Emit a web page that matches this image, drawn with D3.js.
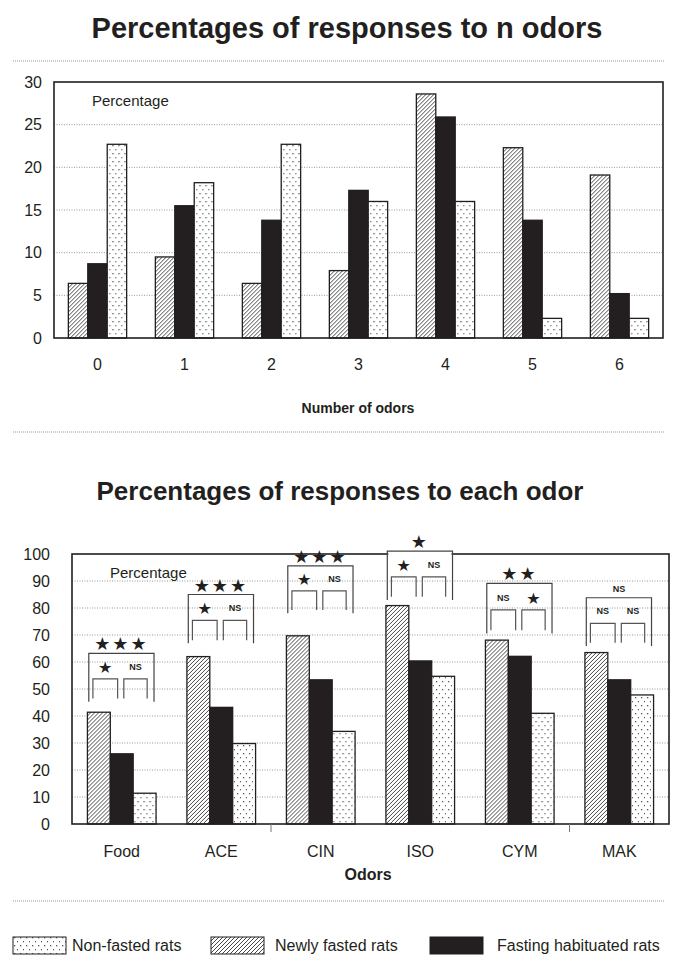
<!DOCTYPE html>
<html lang="en">
	<head>
		<meta charset="utf-8">
		<title>Percentages of responses</title>
		<script type="text/javascript" src="https://cdn.jsdelivr.net/npm/d3@7"></script>
		<style type="text/css">
			body { margin: 0; background: #fff; }
			text { font-family: "Liberation Sans", Arial, sans-serif; fill: #231f20; }
			.star { font-family: "DejaVu Sans", sans-serif; }
		</style>
	</head>

	<body>
		<script type="text/javascript">
			/* top chart: number of odors responded to */
			var nCats = ["0", "1", "2", "3", "4", "5", "6"];
			var nNewly = [6.4, 9.5, 6.4, 7.9, 28.6, 22.3, 19.1];
			var nHabit = [8.7, 15.5, 13.8, 17.3, 25.9, 13.8, 5.2];
			var nNon = [22.7, 18.2, 22.7, 16.0, 16.0, 2.3, 2.3];
			var nTicks = [0, 5, 10, 15, 20, 25, 30];

			/* bottom chart: each odor */
			var odorCats = ["Food", "ACE", "CIN", "ISO", "CYM", "MAK"];
			var oNewly = [41.4, 62.0, 69.7, 80.9, 68.1, 63.5];
			var oHabit = [26.0, 43.2, 53.4, 60.4, 62.1, 53.4];
			var oNon = [11.4, 29.8, 34.3, 54.7, 41.0, 47.8];
			var oTicks = [0, 10, 20, 30, 40, 50, 60, 70, 80, 90, 100];

			/* significance marks over each odor */
			var sigAll = ["★★★", "★★★", "★★★", "★", "★★", "NS"];
			var sigNewlyHabit = ["★", "★", "★", "★", "NS", "NS"];
			var sigHabitNon = ["NS", "NS", "NS", "NS", "★", "NS"];
			var bracketTop = [63.2, 85, 95.6, 101.1, 89.1, 83.8];
			var bracketBottom = [45.3, 66.9, 78.1, 83, 70.6, 65.9];

			var seriesKeys = ["newly", "habit", "non"];
			var legendLabels = ["Non-fasted rats", "Newly fasted rats", "Fasting habituated rats"];

			var W = 674, H = 958;
			var ink = "#231f20";

			var svg = d3.select("body")
				.append("svg")
				.attr("width", W)
				.attr("height", H);

			/* fill patterns */
			var defs = svg.append("defs");
			var hatch = defs.append("pattern")
				.attr("id", "hatch")
				.attr("patternUnits", "userSpaceOnUse")
				.attr("width", 4).attr("height", 4);
			hatch.append("rect").attr("width", 4).attr("height", 4).attr("fill", "#fff");
			hatch.append("path")
				.attr("d", "M-1,1 l2,-2 M0,4 l4,-4 M3,5 l2,-2")
				.attr("stroke", "#333").attr("stroke-width", 0.9);

			var dots = defs.append("pattern")
				.attr("id", "dots")
				.attr("patternUnits", "userSpaceOnUse")
				.attr("width", 6).attr("height", 8);
			dots.append("rect").attr("width", 6).attr("height", 8).attr("fill", "#fff");
			dots.append("rect").attr("x", 2).attr("y", 1).attr("width", 1.3).attr("height", 1.3).attr("fill", "#555");
			dots.append("rect").attr("x", 5).attr("y", 5).attr("width", 1.3).attr("height", 1.3).attr("fill", "#555");

			var fills = { newly: "url(#hatch)", habit: ink, non: "url(#dots)" };

			/* dotted separators */
			[61, 432, 901].forEach(function(y) {
				svg.append("line")
					.attr("x1", 13).attr("x2", 665)
					.attr("y1", y).attr("y2", y)
					.attr("stroke", "#999")
					.attr("stroke-width", 1)
					.attr("stroke-dasharray", "1,1");
			});

			function drawChart(opt) {
				var g = svg.append("g");
				var x = d3.scaleBand().domain(opt.cats).range([opt.left, opt.right]).paddingInner(opt.pad).paddingOuter(opt.pad / 2);
				var x1 = d3.scaleBand().domain(seriesKeys).range([0, x.bandwidth()]);
				var y = d3.scaleLinear().domain([0, opt.max]).range([opt.bottom, opt.top]);

				/* title */
				svg.append("text")
					.attr("x", opt.titleX).attr("y", opt.titleY)
					.attr("text-anchor", "middle")
					.attr("font-size", opt.titleSize).attr("font-weight", "bold")
					.text(opt.title);

				/* gridlines */
				g.selectAll(".grid")
					.data(opt.ticks.slice(1, -1))
					.enter()
					.append("line")
					.attr("x1", opt.left).attr("x2", opt.right)
					.attr("y1", function(d) { return y(d); })
					.attr("y2", function(d) { return y(d); })
					.attr("stroke", "#999")
					.attr("stroke-dasharray", "1,1.5");

				/* y axis labels */
				var yAxis = d3.axisLeft(y).tickValues(opt.ticks).tickSize(0).tickPadding(opt.tickPad);
				var ya = g.append("g").attr("transform", "translate(" + opt.left + ",0)").call(yAxis);
				ya.select(".domain").remove();
				ya.selectAll("text").attr("font-size", 16).attr("fill", ink)
					.attr("font-family", "Liberation Sans, Arial, sans-serif");

				/* bars */
				var rows = opt.cats.map(function(c, i) {
					return { cat: c, vals: [
						{ key: "newly", v: opt.newly[i] },
						{ key: "habit", v: opt.habit[i] },
						{ key: "non", v: opt.non[i] }
					] };
				});
				g.selectAll(".grp")
					.data(rows)
					.enter()
					.append("g")
					.attr("transform", function(d) { return "translate(" + x(d.cat) + ",0)"; })
					.selectAll("rect")
					.data(function(d) { return d.vals; })
					.enter()
					.append("rect")
					.attr("x", function(d) { return x1(d.key); })
					.attr("y", function(d) { return y(d.v); })
					.attr("width", x1.bandwidth())
					.attr("height", function(d) { return y(0) - y(d.v); })
					.attr("fill", function(d) { return fills[d.key]; })
					.attr("stroke", ink)
					.attr("stroke-width", 1.3);

				/* frame */
				g.append("rect")
					.attr("x", opt.left).attr("y", opt.top)
					.attr("width", opt.right - opt.left)
					.attr("height", opt.bottom - opt.top)
					.attr("fill", "none")
					.attr("stroke", ink)
					.attr("stroke-width", 1.6);

				/* x labels */
				var xAxis = d3.axisBottom(x).tickSize(0).tickPadding(opt.xPad);
				var xa = g.append("g").attr("transform", "translate(0," + opt.bottom + ")").call(xAxis);
				xa.select(".domain").remove();
				xa.selectAll("text").attr("font-size", 16).attr("fill", ink)
					.attr("font-family", "Liberation Sans, Arial, sans-serif");

				g.append("text")
					.attr("x", opt.axisX).attr("y", opt.axisY)
					.attr("text-anchor", "middle")
					.attr("font-size", opt.axisSize).attr("font-weight", "bold")
					.text(opt.axisTitle);

				g.append("text")
					.attr("x", opt.left + 38).attr("y", opt.top + 24)
					.attr("font-size", 15)
					.text("Percentage");

				return { g: g, x: x, y: y };
			}

			drawChart({
				cats: nCats, newly: nNewly, habit: nHabit, non: nNon,
				ticks: nTicks, max: 30,
				left: 54, right: 663, top: 82, bottom: 338, pad: 0.33,
				tickPad: 12, xPad: 21,
				title: "Percentages of responses to n odors", titleX: 347, titleY: 38, titleSize: 29,
				axisTitle: "Number of odors", axisX: 358, axisY: 413, axisSize: 14
			});

			var bot = drawChart({
				cats: odorCats, newly: oNewly, habit: oHabit, non: oNon,
				ticks: oTicks, max: 100,
				left: 72, right: 669, top: 554, bottom: 824, pad: 0.31,
				tickPad: 22, xPad: 22,
				title: "Percentages of responses to each odor", titleX: 340, titleY: 500, titleSize: 26,
				axisTitle: "Odors", axisX: 368, axisY: 880, axisSize: 16
			});

			/* two small ticks below the odor axis */
			bot.g.selectAll(".xt")
				.data([odorCats[2], odorCats[5]])
				.enter()
				.append("line")
				.attr("x1", function(d) { return bot.x(d) - bot.x.step() * 0.31 / 2; })
				.attr("x2", function(d) { return bot.x(d) - bot.x.step() * 0.31 / 2; })
				.attr("y1", 824).attr("y2", 832)
				.attr("stroke", "#777");

			/* significance brackets */
			var bw = bot.x.bandwidth();
			var br = bot.g.selectAll(".br")
				.data(odorCats)
				.enter()
				.append("g")
				.attr("transform", function(d) { return "translate(" + bot.x(d) + ",0)"; });

			br.each(function(d, i) {
				var s = d3.select(this);
				var yt = bot.y(bracketTop[i]);
				var yb = bot.y(bracketBottom[i]);
				var yi = bot.y(bracketBottom[i] + (bracketTop[i] - bracketBottom[i]) * 0.47);
				var yib = bot.y(bracketBottom[i] + 1.2);
				var bx0 = bw * 0.02, bx1 = bw * 0.97;
				/* bracket reaching above the frame cuts its top line */
				if (bracketTop[i] > 100) {
					s.append("line")
						.attr("x1", bx0 + 1).attr("x2", bx1 - 1)
						.attr("y1", bot.y(100)).attr("y2", bot.y(100))
						.attr("stroke", "#fff").attr("stroke-width", 3);
				}
				s.append("path")
					.attr("d", "M" + bx0 + "," + yb + "V" + yt + "H" + bx1 + "V" + yb)
					.attr("fill", "none").attr("stroke", "#444").attr("stroke-width", 1.2);
				var inner = [[0.08, 0.44], [0.53, 0.87]];
				inner.forEach(function(p) {
					s.append("path")
						.attr("d", "M" + bw * p[0] + "," + yib + "V" + yi + "H" + bw * p[1] + "V" + yib)
						.attr("fill", "none").attr("stroke", "#555").attr("stroke-width", 1.2);
				});
				var labels = [sigNewlyHabit[i], sigHabitNon[i]];
				labels.forEach(function(t, k) {
					var cx = bw * (inner[k][0] + inner[k][1]) / 2;
					s.append("text")
						.attr("class", t === "NS" ? "" : "star")
						.attr("x", cx).attr("y", yi - (t === "NS" ? 9 : 6))
						.attr("text-anchor", "middle")
						.attr("font-size", t === "NS" ? 9 : 16)
						.attr("font-weight", "bold")
						.text(t);
				});
				var top = sigAll[i];
				s.append("text")
					.attr("class", top === "NS" ? "" : "star")
					.attr("x", (bx0 + bx1) / 2).attr("y", yt - (top === "NS" ? 6 : 3))
					.attr("text-anchor", "middle")
					.attr("font-size", top === "NS" ? 9 : 18)
					.attr("font-weight", "bold")
					.attr("letter-spacing", top === "NS" ? 0 : 2)
					.text(top);
			});

			/* legend */
			var legFills = ["url(#dots)", "url(#hatch)", ink];
			var legX = [13, 211, 430];
			var legTextX = [72, 275, 497];
			var leg = svg.selectAll(".leg")
				.data(legendLabels)
				.enter()
				.append("g");
			leg.append("rect")
				.attr("x", function(d, i) { return legX[i]; })
				.attr("y", 937)
				.attr("width", 53).attr("height", 17)
				.attr("fill", function(d, i) { return legFills[i]; })
				.attr("stroke", ink).attr("stroke-width", 1);
			leg.append("text")
				.attr("x", function(d, i) { return legTextX[i]; })
				.attr("y", 951)
				.attr("font-size", 16)
				.text(function(d) { return d; });
		</script>
	</body>
</html>
